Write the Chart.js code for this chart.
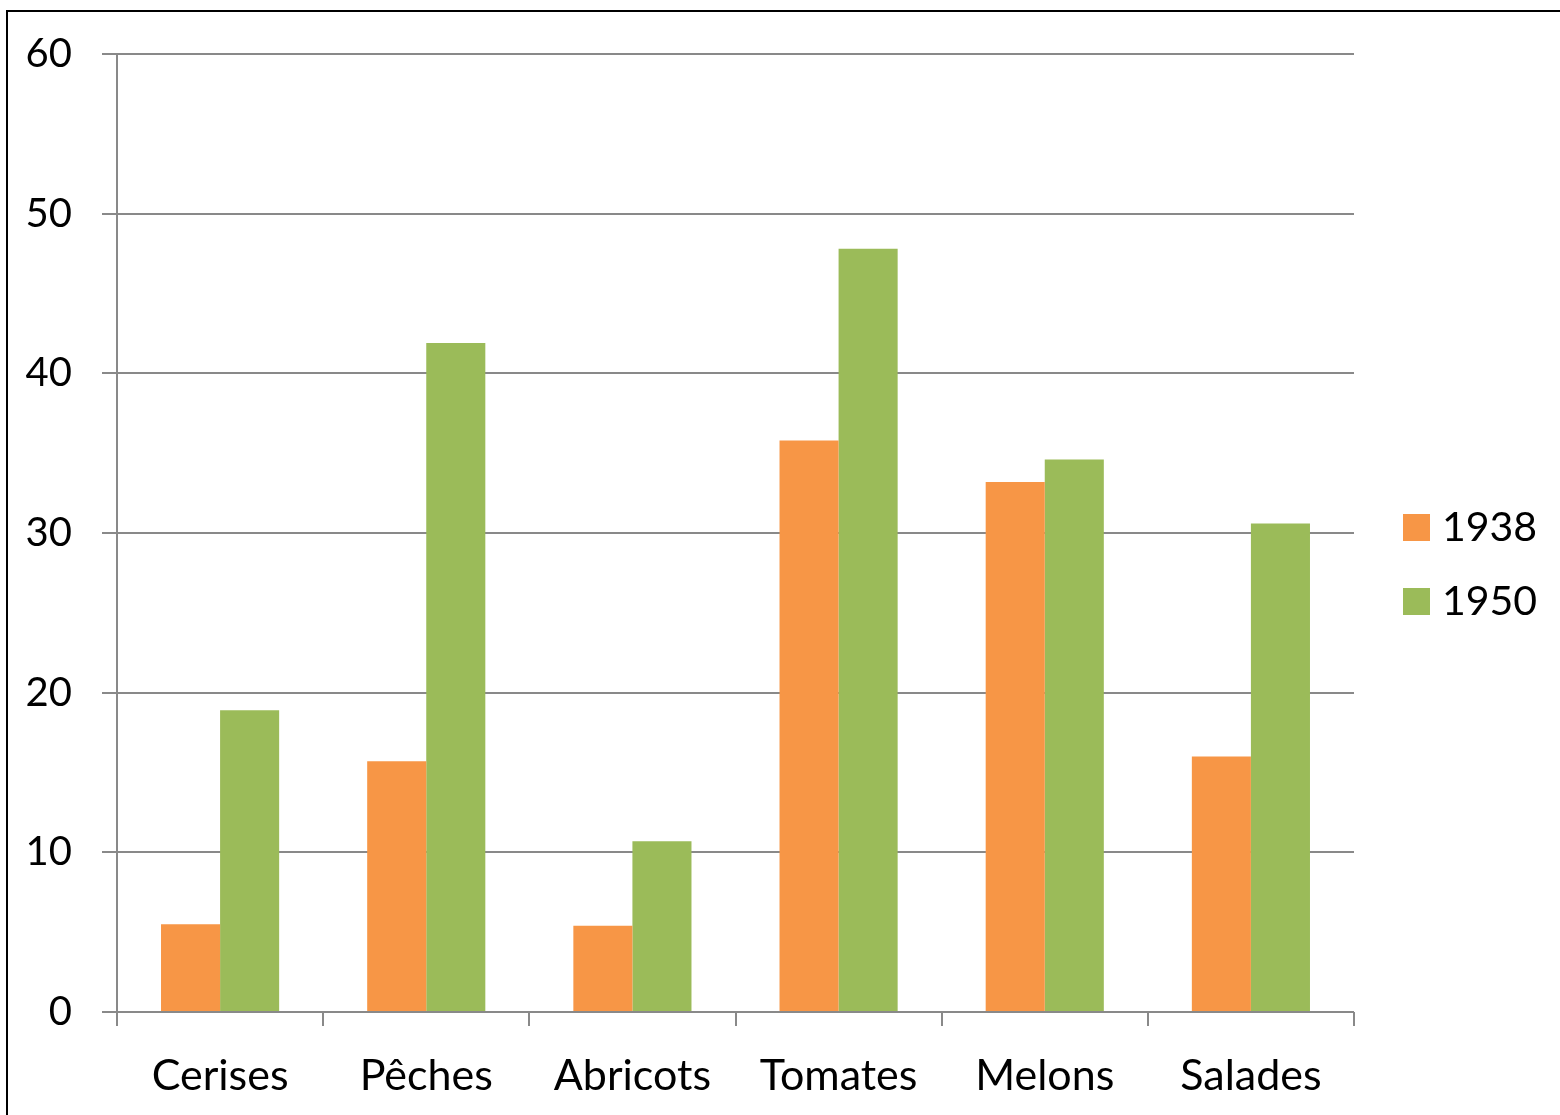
<!DOCTYPE html>
<html>
<head>
<meta charset="utf-8">
<script src="https://cdn.jsdelivr.net/npm/chart.js@4.4.0/dist/chart.umd.min.js"></script>
<style>
  html, body { margin: 0; padding: 0; background: #fff; overflow: hidden; }
  #cadre {
    position: absolute; left: 6px; top: 10px; width: 1700px; height: 1300px;
    border-left: 2px solid #000; border-top: 2px solid #000; box-sizing: border-box;
  }
  #zone { position: absolute; left: 0; top: 0; width: 1560px; height: 1115px; }
</style>
</head>
<body>
<div id="cadre"></div>
<div id="zone"><canvas id="graphique"></canvas></div>
<script>
// Données
const categories = ["Cerises", "Pêches", "Abricots", "Tomates", "Melons", "Salades"];
const valeurs1938 = [5.5, 15.7, 5.4, 35.8, 33.2, 16.0];
const valeurs1950 = [18.9, 41.9, 10.7, 47.8, 34.6, 30.6];
const annees = ["1938", "1950"];

const police = "Lato, 'Open Sans', sans-serif";
const gris = "#898989";

// Légende dessinée à la main, à droite
const legendePerso = {
  id: "legendePerso",
  afterDraw(chart) {
    const ctx = chart.ctx;
    ctx.save();
    ctx.font = "41px " + police;
    ctx.textBaseline = "middle";
    chart.data.datasets.forEach((ds, i) => {
      const y = 527 + i * 74;
      ctx.fillStyle = ds.backgroundColor;
      ctx.fillRect(1403, y - 13, 27, 27);
      ctx.fillStyle = "#000";
      ctx.fillText(ds.label, 1442, y + 1);
    });
    ctx.restore();
  },
};

const ctx = document.getElementById("graphique").getContext("2d");
new Chart(ctx, {
  type: "bar",
  data: {
    labels: categories,
    datasets: [
      { label: annees[0], data: valeurs1938, backgroundColor: "#F79646" },
      { label: annees[1], data: valeurs1950, backgroundColor: "#9BBB59" },
    ],
  },
  options: {
    responsive: true,
    maintainAspectRatio: false,
    animation: false,
    layout: { padding: { top: 53, right: 206, bottom: 0, left: 0 } },
    datasets: {
      bar: { categoryPercentage: 0.573, barPercentage: 1 },
    },
    plugins: {
      legend: { display: false },
      tooltip: { enabled: false },
    },
    scales: {
      x: {
        afterFit: (s) => { s.height = 103; },
        grid: {
          offset: true,
          drawOnChartArea: false,
          color: gris,
          lineWidth: 2,
          tickLength: 14,
        },
        border: { display: false },
        ticks: {
          color: "#000",
          font: { family: police, size: 43 },
          padding: 24,
          maxRotation: 0,
        },
      },
      y: {
        min: 0,
        max: 60,
        afterFit: (s) => { s.width = 117; },
        grid: { color: gris, lineWidth: 2, tickLength: 15 },
        border: { color: gris, width: 2 },
        ticks: {
          stepSize: 10,
          color: "#000",
          font: { family: police, size: 40 },
          padding: 30,
        },
      },
    },
  },
  plugins: [legendePerso],
});
</script>
</body>
</html>
